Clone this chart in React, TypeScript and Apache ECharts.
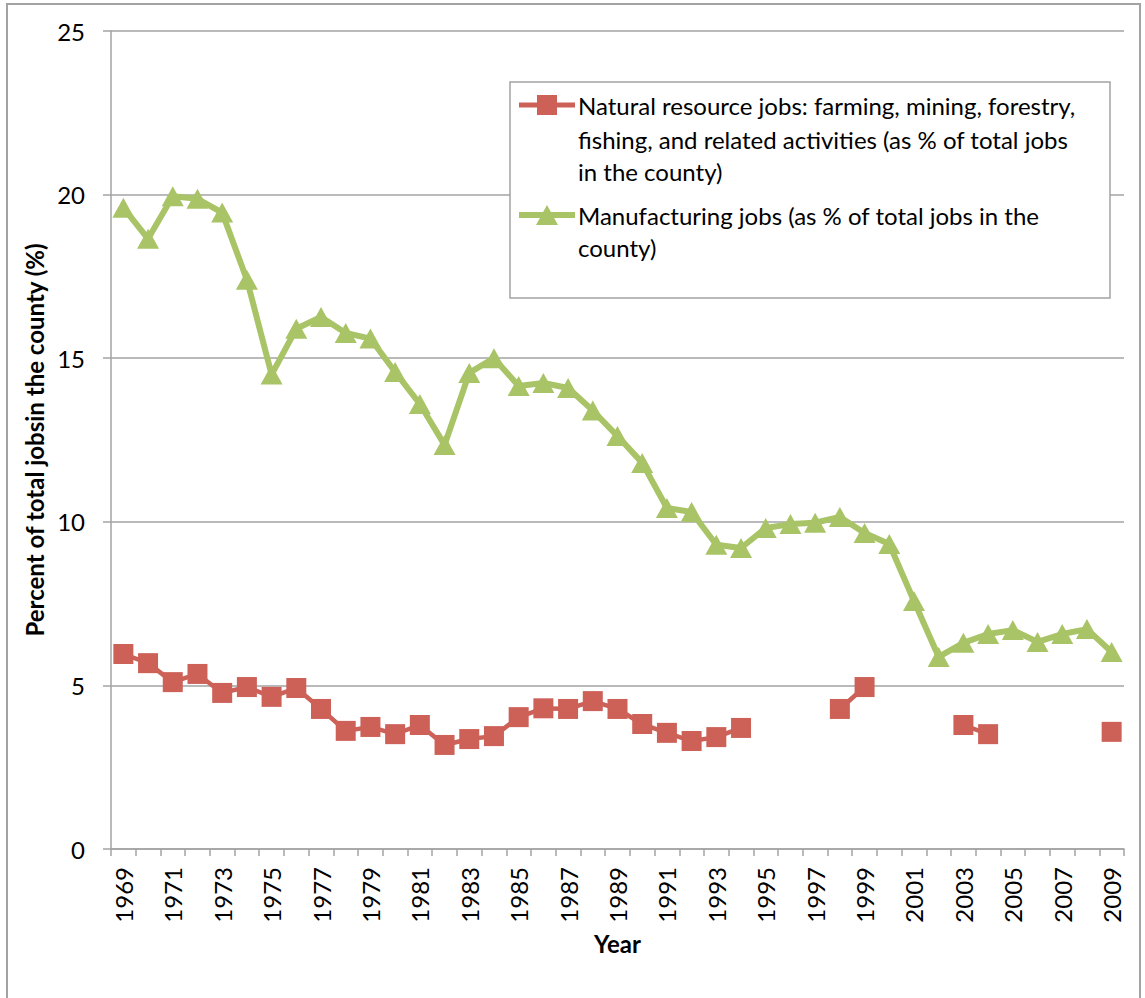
import React, { useEffect, useRef } from "react";
import * as echarts from "echarts";

const years: string[] = [];
for (let y = 1969; y <= 2009; y++) years.push(String(y));

const naturalResource: (number | null)[] = [
  5.96, 5.68, 5.1, 5.35, 4.77, 4.95, 4.65, 4.92, 4.28, 3.61,
  3.73, 3.51, 3.79, 3.18, 3.36, 3.45, 4.03, 4.3, 4.28, 4.52,
  4.28, 3.82, 3.55, 3.3, 3.42, 3.7, null, null, null, 4.28,
  4.95, null, null, null, 3.79, 3.51, null, null, null, null,
  3.58,
];

const manufacturing: number[] = [
  19.6, 18.65, 19.95, 19.87, 19.45, 17.4, 14.5, 15.9, 16.26, 15.77,
  15.6, 14.58, 13.6, 12.35, 14.55, 15.0, 14.15, 14.24, 14.09, 13.4,
  12.62, 11.8, 10.42, 10.3, 9.3, 9.2, 9.81, 9.93, 9.97, 10.15,
  9.66, 9.32, 7.58, 5.87, 6.3, 6.57, 6.69, 6.33, 6.57, 6.72,
  6.02,
];

const seriesNames = [
  "Natural resource jobs: farming, mining, forestry, fishing, and related activities (as % of total jobs in the county)",
  "Manufacturing jobs (as % of total jobs in the county)",
];
const legendLines: string[][] = [
  [
    "Natural resource jobs: farming, mining, forestry,",
    "fishing, and related activities (as % of total jobs",
    "in the county)",
  ],
  ["Manufacturing jobs (as % of total jobs in the", "county)"],
];

const yTicks = { min: 0, max: 25, interval: 5 };

const RED = "#CD6158";
const GREEN = "#A9C466";
const GRID = "#A3A3A3";
const FONT = "Lato";
const FS = 24;

export default function App() {
  const ref = useRef<HTMLDivElement>(null);
  useEffect(() => {
    if (!ref.current) return;
    const chart = echarts.init(ref.current, undefined, { renderer: "svg" });

    const legendGraphics: any[] = [
      {
        type: "rect",
        shape: { x: 510, y: 82, width: 600, height: 216 },
        style: { fill: "#fff", stroke: GRID, lineWidth: 1.5 },
        z: 10,
      },
      {
        type: "line",
        shape: { x1: 519, y1: 105, x2: 575, y2: 105 },
        style: { stroke: RED, lineWidth: 5 },
        z: 11,
      },
      {
        type: "rect",
        shape: { x: 537, y: 95, width: 20, height: 20 },
        style: { fill: RED },
        z: 12,
      },
      {
        type: "line",
        shape: { x1: 519, y1: 215, x2: 575, y2: 215 },
        style: { stroke: GREEN, lineWidth: 6 },
        z: 11,
      },
      {
        type: "polygon",
        shape: { points: [[547, 205], [536, 225], [558, 225]] },
        style: { fill: GREEN },
        z: 12,
      },
    ];
    const lineTops = [[105, 139, 171], [215, 247]];
    legendLines.forEach((lines, i) => {
      lines.forEach((t, j) => {
        legendGraphics.push({
          type: "text",
          x: 578,
          y: lineTops[i][j],
          style: {
            text: t,
            fill: "#000",
            font: `${FS}px ${FONT}`,
            verticalAlign: "middle",
            align: "left",
          },
          z: 12,
        });
      });
    });

    chart.setOption({
      animation: false,
      backgroundColor: "#fff",
      textStyle: { fontFamily: FONT },
      grid: { left: 111, top: 31, right: 21, bottom: 149, containLabel: false },
      xAxis: {
        type: "category",
        data: years,
        boundaryGap: true,
        name: "Year",
        nameLocation: "middle",
        nameGap: 82,
        nameTextStyle: { fontSize: FS, fontWeight: "bold", color: "#000", fontFamily: FONT },
        axisLine: { show: true, lineStyle: { color: GRID, width: 1.5 } },
        axisTick: { show: true, interval: 0, length: 7, lineStyle: { color: GRID, width: 1.5 } },
        axisLabel: {
          interval: 1,
          rotate: 90,
          margin: 18,
          fontSize: FS,
          color: "#000",
          fontFamily: FONT,
        },
        splitLine: { show: false },
      },
      yAxis: {
        type: "value",
        min: yTicks.min,
        max: yTicks.max,
        interval: yTicks.interval,
        name: "Percent of total jobsin the county (%)",
        nameLocation: "middle",
        nameGap: 62,
        nameTextStyle: { fontSize: FS, fontWeight: "bold", color: "#000", fontFamily: FONT },
        axisLine: { show: true, lineStyle: { color: GRID, width: 1.5 } },
        axisTick: { show: true, length: 8, lineStyle: { color: GRID, width: 1.5 } },
        axisLabel: { margin: 26, fontSize: FS, color: "#000", fontFamily: FONT },
        splitLine: { show: true, lineStyle: { color: GRID, width: 1.5 } },
      },
      series: [
        {
          name: seriesNames[0],
          type: "line",
          data: naturalResource,
          connectNulls: false,
          showAllSymbol: true,
          symbol: "rect",
          symbolSize: 20,
          itemStyle: { color: RED },
          lineStyle: { color: RED, width: 4.5 },
          z: 3,
        },
        {
          name: seriesNames[1],
          type: "line",
          data: manufacturing,
          showAllSymbol: true,
          symbol: "triangle",
          symbolSize: [22, 20],
          itemStyle: { color: GREEN },
          lineStyle: { color: GREEN, width: 6 },
          z: 4,
        },
      ],
      graphic: [
        {
          type: "rect",
          shape: { x: 7, y: 4, width: 1133, height: 1010 },
          style: { fill: "none", stroke: GRID, lineWidth: 2 },
          z: 1,
          silent: true,
        },
        ...legendGraphics,
      ],
    });
    return () => chart.dispose();
  }, []);
  return (
    <div
      ref={ref}
      style={{ position: "fixed", left: 0, top: 0, width: 1145, height: 998 }}
    />
  );
}
